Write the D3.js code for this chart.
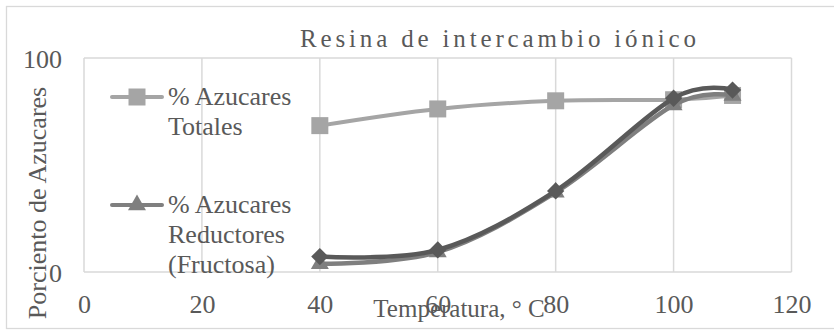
<!DOCTYPE html>
<html>
<head>
<meta charset="utf-8">
<script src="https://cdn.jsdelivr.net/npm/d3@7/dist/d3.min.js"></script>
<style>
  html, body { margin: 0; padding: 0; background: #fff; }
  svg { display: block; }
  text { font-family: "Liberation Serif", "Times New Roman", serif; fill: #595959; }
</style>
</head>
<body>
<svg id="chart" width="834" height="330"></svg>
<script>
// Temperatures (°C) and sugar percentages per series
const temperaturas = [40, 60, 80, 100, 110];
const azucaresTotales = [68.4, 76.2, 80.0, 80.5, 82.5];
const azucaresReductores = [3.8, 9.3, 37.2, 78.0, 82.5];
const fructosa = [7.2, 10.3, 37.9, 81.2, 85.0];

const xTicks = [0, 20, 40, 60, 80, 100, 120];
const yTicks = [0, 100];

const titulo = "Resina de intercambio iónico";
const tituloX = "Temperatura, ° C";
const tituloY = "Porciento de Azucares";

const leyenda1 = ["% Azucares", "Totales"];
const leyenda2 = ["% Azucares", "Reductores", "(Fructosa)"];

const svg = d3.select("#chart");

// chart frame
svg.append("rect")
  .attr("x", 6.5).attr("y", 6.5)
  .attr("width", 840).attr("height", 322)
  .attr("fill", "#fff").attr("stroke", "#D9D9D9").attr("stroke-width", 1.3);

const plot = { left: 84, right: 791.5, top: 58, bottom: 272 };
const x = d3.scaleLinear().domain([0, 120]).range([plot.left, plot.right]);
const y = d3.scaleLinear().domain([0, 100]).range([plot.bottom, plot.top]);

// gridlines
const grid = svg.append("g").attr("stroke", "#D9D9D9").attr("stroke-width", 1.5);
grid.selectAll("line.v").data(xTicks).join("line")
  .attr("x1", d => x(d)).attr("x2", d => x(d))
  .attr("y1", plot.top).attr("y2", plot.bottom);
grid.selectAll("line.h").data(yTicks).join("line")
  .attr("x1", plot.left).attr("x2", plot.right)
  .attr("y1", d => y(d)).attr("y2", d => y(d));

// axes (labels only)
const xAxis = d3.axisBottom(x).tickValues(xTicks).tickSize(0).tickPadding(0);
const gx = svg.append("g").attr("transform", `translate(0,${plot.bottom})`).call(xAxis);
gx.select(".domain").remove();
gx.selectAll("text")
  .attr("y", 41).attr("dy", null)
  .style("font-family", '"Liberation Serif", serif')
  .style("font-size", "26px").attr("fill", "#595959");

const yAxis = d3.axisLeft(y).tickValues(yTicks).tickSize(0).tickPadding(0);
const gy = svg.append("g").attr("transform", `translate(62,0)`).call(yAxis);
gy.select(".domain").remove();
gy.selectAll("text")
  .attr("x", 0).attr("dy", "0.35em")
  .style("font-family", '"Liberation Serif", serif')
  .style("font-size", "26px").attr("fill", "#595959");

// titles
svg.append("text")
  .attr("x", 300).attr("y", 47)
  .attr("textLength", 396).attr("lengthAdjust", "spacing")
  .style("font-size", "25px")
  .text(titulo);

svg.append("text")
  .attr("x", 459).attr("y", 317)
  .attr("text-anchor", "middle")
  .style("font-size", "25px")
  .text(tituloX);

svg.append("text")
  .attr("transform", "translate(46,203) rotate(-90)")
  .attr("text-anchor", "middle")
  .style("font-size", "26px")
  .text(tituloY);

// series
const line = d3.line()
  .x(d => x(d[0])).y(d => y(d[1]))
  .curve(d3.curveCatmullRom.alpha(0));

const series = [
  { values: azucaresTotales, color: "#A5A5A5", width: 4, marker: "square" },
  { values: azucaresReductores, color: "#7F7F7F", width: 4.5, marker: "triangle" },
  { values: fructosa, color: "#595959", width: 4.5, marker: "diamond" }
];

function markerPath(kind) {
  if (kind === "square") return d3.symbol(d3.symbolSquare, 289)();
  if (kind === "triangle") return d3.symbol(d3.symbolTriangle, 140)();
  return d3.symbol(d3.symbolSquare, 150)();
}
function markerRot(kind) { return kind === "diamond" ? " rotate(45)" : ""; }

series.forEach(s => {
  const pts = temperaturas.map((t, i) => [t, s.values[i]]);
  svg.append("path")
    .attr("d", line(pts))
    .attr("fill", "none")
    .attr("stroke", s.color)
    .attr("stroke-width", s.width)
    .attr("stroke-linecap", "round")
    .attr("stroke-linejoin", "round");
  svg.append("g").selectAll("path").data(pts).join("path")
    .attr("d", markerPath(s.marker))
    .attr("transform", d => `translate(${x(d[0])},${y(d[1])})${markerRot(s.marker)}`)
    .attr("fill", s.color);
});

// legend
const legend = [
  { lines: leyenda1, s: series[0], y: 97 },
  { lines: leyenda2, s: series[1], y: 205 }
];
legend.forEach(item => {
  const g = svg.append("g");
  g.append("line")
    .attr("x1", 112).attr("x2", 162)
    .attr("y1", item.y).attr("y2", item.y)
    .attr("stroke", item.s.color).attr("stroke-width", 4)
    .attr("stroke-linecap", "round");
  g.append("path")
    .attr("d", markerPath(item.s.marker))
    .attr("transform", `translate(137,${item.y})${markerRot(item.s.marker)}`)
    .attr("fill", item.s.color);
  g.selectAll("text").data(item.lines).join("text")
    .attr("x", 168)
    .attr("y", (d, i) => item.y + 8 + i * 30)
    .style("font-size", "26px")
    .text(d => d);
});
</script>
</body>
</html>
